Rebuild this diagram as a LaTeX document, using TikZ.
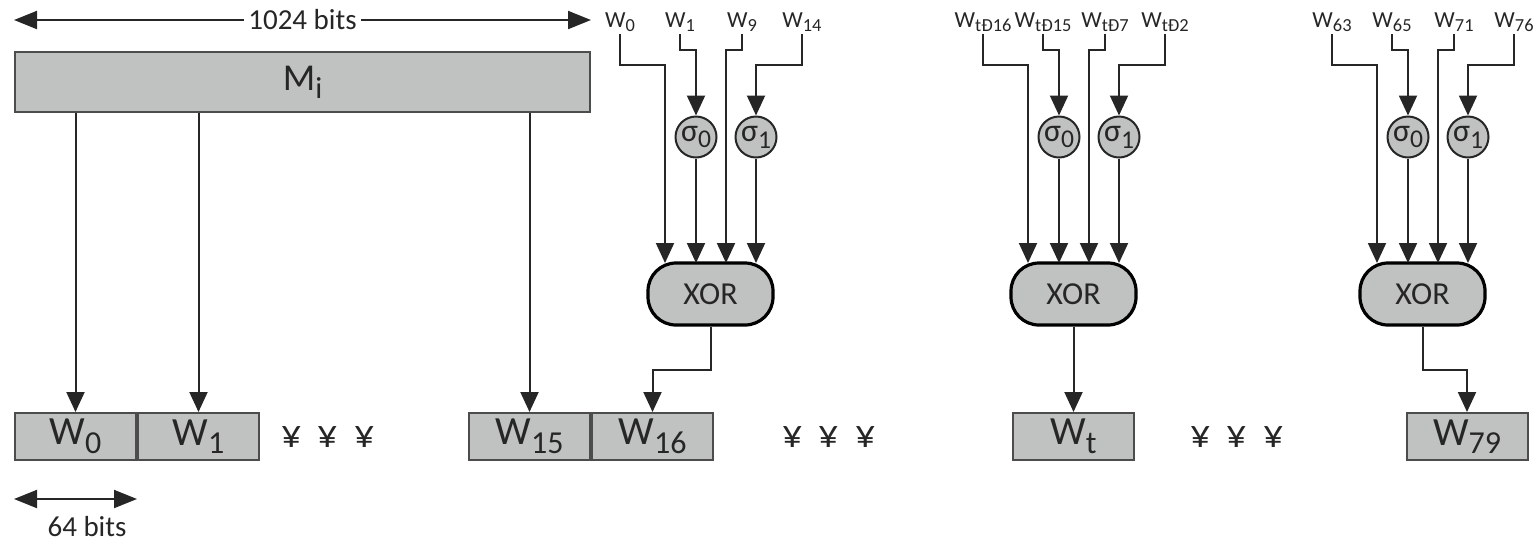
\documentclass[tikz,border=0pt]{standalone}
\usepackage{fontspec}
\setmainfont{Carlito}
\usepackage{tikz}
\usetikzlibrary{arrows.meta,positioning}

\definecolor{boxgray}{RGB}{192,194,193}
\newcommand{\lowsub}[1]{\raisebox{-0.45ex}{\scalebox{0.8}{#1}}}

\begin{document}
\begin{tikzpicture}[x=0.5pt,y=-0.5pt,
    wire/.style={line width=1pt,draw=black!85},
    arr/.style={wire,-{Triangle[length=10pt,width=9pt]}},
    dim/.style={wire,{Triangle[length=11.5pt,width=9pt]}-{Triangle[length=11.5pt,width=9pt]}},
    wbox/.style={draw=black!70,line width=1pt,fill=boxgray,minimum width=60.5pt,minimum height=23.5pt,inner sep=0pt,text=black!85,font=\fontsize{20}{20}\selectfont},
    sig/.style={circle,draw=black!85,line width=1pt,fill=boxgray,minimum size=20.5pt,inner sep=0pt,text=black!85,font=\fontsize{16}{16}\selectfont},
    xorbox/.style={rounded corners=14pt,draw=black,line width=1.6pt,fill=boxgray,minimum width=62.5pt,minimum height=31pt,text=black!85,font=\fontsize{16}{16}\selectfont},
    lab/.style={inner sep=1pt,anchor=base,text=black!85,font=\fontsize{11.5}{11.5}\selectfont},
    txt/.style={text=black!85,font=\fontsize{14.5}{14.5}\selectfont},
    dots/.style={text=black!85,font=\fontsize{20}{20}\selectfont}]
    \useasboundingbox (0,0) rectangle (1536,543);

    % message block
    \node[wbox,minimum width=287.5pt,minimum height=30pt,font=\fontsize{19}{19}\selectfont] (m) at (302.5,82) {M\lowsub{i}};
    \coordinate (tl) at ([yshift=15.5pt]m.north west);
    \coordinate (tr) at ([yshift=15.5pt]m.north east);
    \draw[dim] (tl) -- node[txt,fill=white,inner sep=2pt] {1024 bits} (tr);

    % word row
    \node[wbox] (w0) at (75.5,436.5) {W\lowsub{0}};
    \node[wbox,right=0pt of w0] (w1) {W\lowsub{1}};
    \node[dots] (d1) at (328,437) {¥\hspace{8pt}¥\hspace{8pt}¥};
    \node[wbox] (w15) at (529.5,436.5) {W\lowsub{15}};
    \node[wbox,right=0pt of w15] (w16) {W\lowsub{16}};
    \node[dots] (d2) at (829,437) {¥\hspace{8pt}¥\hspace{8pt}¥};
    \node[wbox] (wt) at (1073.5,436.5) {W\lowsub{t}};
    \node[dots] (d3) at (1237,437) {¥\hspace{8pt}¥\hspace{8pt}¥};
    \node[wbox] (w79) at (1467,436.5) {W\lowsub{79}};

    \draw[dim] ([yshift=-19pt]w0.south west) -- ([yshift=-19pt]w0.south east);
    \node[txt] (sz) at (87,527) {64 bits};

    \draw[arr] (w0.north |- m.south) -- (w0.north);
    \draw[arr] (w1.north |- m.south) -- (w1.north);
    \draw[arr] (w15.north |- m.south) -- (w15.north);

    % expansion units
    \foreach \dx/\a/\b/\c/\d/\g in {0/0/1/9/14/a, 363/tÐ16/tÐ15/tÐ7/tÐ2/b, 712/63/65/71/76/c} {
        \node[xorbox] (x\g) at (710.5+\dx,294) {XOR};
        \node[sig] (s0\g) at (696+\dx,137) {σ\lowsub{0}};
        \node[sig] (s1\g) at (756+\dx,137) {σ\lowsub{1}};
        \coordinate (i1\g) at (665+\dx,263);
        \coordinate (i2\g) at (s0\g |- i1\g);
        \coordinate (i3\g) at (726+\dx,263);
        \coordinate (i4\g) at (s1\g |- i1\g);
        \node[lab] (la\g) at (620+\dx,27) {W\lowsub{\a}};
        \node[lab] (lb\g) at (680+\dx,27) {W\lowsub{\b}};
        \node[lab] (lc\g) at (742+\dx,27) {W\lowsub{\c}};
        \node[lab] (ld\g) at (802+\dx,27) {W\lowsub{\d}};
        \draw[arr] (la\g.south) |- (i1\g |- 0,65) -- (i1\g);
        \draw[arr] (lb\g.south) |- (s0\g.north |- 0,50) -- (s0\g.north);
        \draw[arr] (lc\g.south) |- (i3\g |- 0,50) -- (i3\g);
        \draw[arr] (ld\g.south) |- (s1\g.north |- 0,65) -- (s1\g.north);
        \draw[arr] (s0\g.south) -- (i2\g);
        \draw[arr] (s1\g.south) -- (i4\g);
    }

    \draw[arr] (xa.south) |- (w16.north |- 0,370) -- (w16.north);
    \draw[arr] (xb.south) -- (wt.north);
    \draw[arr] (xc.south) |- (w79.north |- 0,370) -- (w79.north);
\end{tikzpicture}
\end{document}
